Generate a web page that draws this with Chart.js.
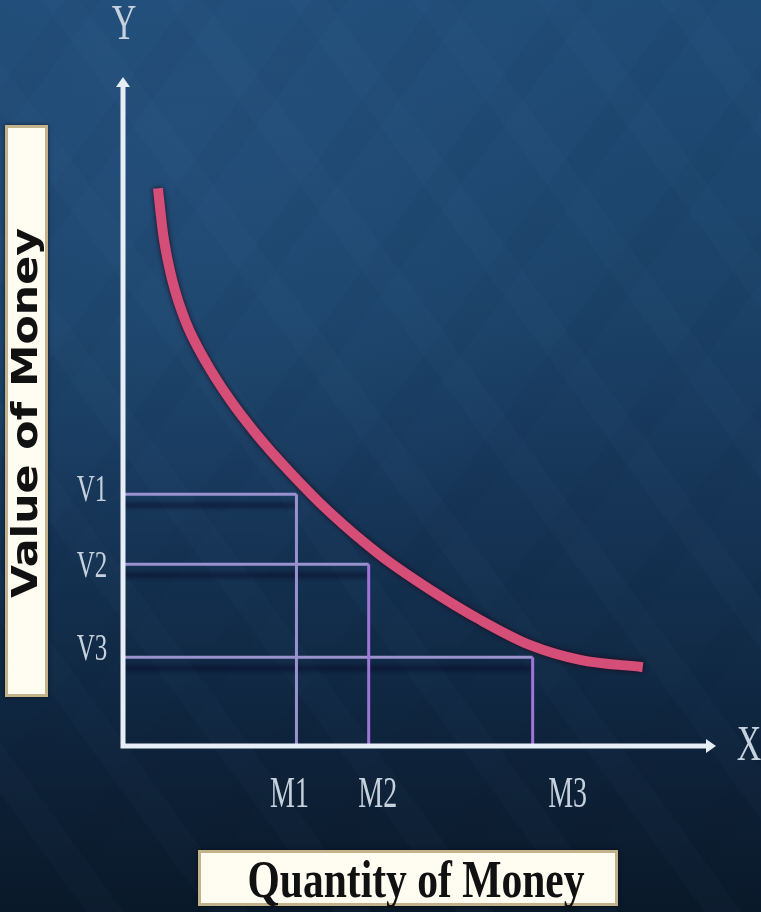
<!DOCTYPE html>
<html>
<head>
<meta charset="utf-8">
<script src="https://cdn.jsdelivr.net/npm/chart.js@4"></script>
<style>
  html, body { margin: 0; padding: 0; }
  body {
    width: 761px; height: 912px; overflow: hidden;
    background:
      repeating-linear-gradient(54deg, rgba(255,255,255,0) 0px, rgba(255,255,255,0) 70px, rgba(120,170,220,0.022) 70px, rgba(120,170,220,0.022) 100px),
      repeating-linear-gradient(-54deg, rgba(0,0,0,0) 0px, rgba(0,0,0,0) 70px, rgba(0,10,30,0.035) 70px, rgba(0,10,30,0.035) 100px),
      radial-gradient(ellipse 90% 70% at 25% 15%, rgba(40,85,130,0.55), rgba(40,85,130,0) 70%),
      linear-gradient(180deg, #1f4c77 0%, #1b4167 35%, #132f4e 65%, #0c1f34 88%, #0a192a 100%);
  }
  #wrap { position: relative; width: 761px; height: 912px; }
</style>
</head>
<body>
<div id="wrap"><canvas id="c"></canvas></div>
<script>
// Demand-for-money style curve: value of money falls as quantity rises.
const curveX = [5.9, 6.8, 8.3, 10.6, 14.0, 18.1, 22.6, 28.2, 34.9, 43.4, 51.9, 60.3, 68.8, 77.2, 87.8];
const curveY = [83.5, 76.5, 69.8, 63.5, 57.5, 51.8, 46.6, 41.0, 35.0, 28.6, 23.4, 18.9, 15.1, 12.9, 11.8];

// Reference quantities and the matching values.
const moneyLabels = ['M1', 'M2', 'M3'];
const moneyValues = [29.3, 41.5, 69.2];
const valueLabels = ['V1', 'V2', 'V3'];
const valueValues = [37.7, 27.2, 13.3];

const yAxisLetter = 'Y';
const xAxisLetter = 'X';
const yTitle = 'Value of Money';
const xTitle = 'Quantity of Money';

const PINK = '#d44e78';
const LAVENDER = '#9a92cf';
const VIOLET = '#a074da';
const AXIS = '#e8eef5';
const LABEL = '#c6d1dd';

// Build guide datasets from the value/quantity pairs.
const guideSets = [];
moneyValues.forEach((m, i) => {
  const v = valueValues[i];
  guideSets.push({
    data: [{ x: 0, y: v }, { x: m, y: v }],
    borderColor: LAVENDER, borderWidth: 3, pointRadius: 0,
    showLine: true, clip: false, order: 3, guideShadow: true
  });
  guideSets.push({
    data: [{ x: m, y: v }, { x: m, y: 0 }],
    borderColor: i === 0 ? LAVENDER : VIOLET, borderWidth: 3, pointRadius: 0,
    showLine: true, clip: false, order: 2
  });
});

const curveSet = {
  data: curveX.map((x, i) => ({ x, y: curveY[i] })),
  borderColor: PINK, borderWidth: 10, pointRadius: 0,
  showLine: true, cubicInterpolationMode: 'monotone',
  borderCapStyle: 'butt', clip: false, order: 1, curveShadow: true
};

function stretchedText(ctx, text, x, y, opts) {
  ctx.save();
  ctx.translate(x, y);
  if (opts.rotate) ctx.rotate(opts.rotate);
  ctx.font = opts.font;
  let sx = opts.sx || 1;
  if (opts.fitWidth) sx = opts.fitWidth / ctx.measureText(text).width;
  ctx.scale(sx, opts.sy || 1);
  ctx.fillStyle = opts.color;
  ctx.textAlign = 'center';
  ctx.textBaseline = opts.baseline || 'middle';
  ctx.fillText(text, 0, 0);
  ctx.restore();
}

function titleBox(ctx, x0, y0, x1, y1) {
  ctx.save();
  ctx.shadowColor = 'rgba(0,0,0,0.6)';
  ctx.shadowBlur = 4;
  ctx.fillStyle = '#fffcf1';
  ctx.fillRect(x0, y0, x1 - x0, y1 - y0);
  ctx.restore();
  ctx.save();
  ctx.strokeStyle = '#c4b28a';
  ctx.lineWidth = 3;
  ctx.strokeRect(x0 + 1.5, y0 + 1.5, x1 - x0 - 3, y1 - y0 - 3);
  ctx.restore();
}

const shadowPlugin = {
  id: 'shadows',
  beforeDatasetDraw(chart, args) {
    const ds = chart.data.datasets[args.index];
    const ctx = chart.ctx;
    ctx.save();
    if (ds.guideShadow) {
      ctx.shadowColor = 'rgba(8,6,35,0.85)';
      ctx.shadowOffsetY = 11;
      ctx.shadowBlur = 5;
    } else if (ds.curveShadow) {
      ctx.shadowColor = 'rgba(40,0,20,0.9)';
      ctx.shadowBlur = 5;
    }
  },
  afterDatasetDraw(chart) { chart.ctx.restore(); }
};

const axesPlugin = {
  id: 'axesAndLabels',
  afterDatasetsDraw(chart) {
    const ctx = chart.ctx;
    const xs = chart.scales.x, ys = chart.scales.y;
    const x0 = xs.getPixelForValue(0), xEnd = xs.getPixelForValue(100);
    const y0 = ys.getPixelForValue(0), yEnd = ys.getPixelForValue(100);

    // Axis lines with arrowheads
    ctx.save();
    ctx.strokeStyle = AXIS;
    ctx.fillStyle = AXIS;
    ctx.lineWidth = 5;
    ctx.beginPath();
    ctx.moveTo(x0, y0 + 2.5);
    ctx.lineTo(x0, yEnd + 7);
    ctx.moveTo(x0 - 2.5, y0);
    ctx.lineTo(xEnd - 7, y0);
    ctx.stroke();
    ctx.beginPath();
    ctx.moveTo(x0, yEnd - 1);
    ctx.lineTo(x0 - 7, yEnd + 9);
    ctx.lineTo(x0 + 7, yEnd + 9);
    ctx.closePath();
    ctx.fill();
    ctx.beginPath();
    ctx.moveTo(xEnd + 1, y0);
    ctx.lineTo(xEnd - 9, y0 - 7);
    ctx.lineTo(xEnd - 9, y0 + 7);
    ctx.closePath();
    ctx.fill();
    ctx.restore();

    const serif = '"Liberation Serif", "DejaVu Serif", serif';
    stretchedText(ctx, yAxisLetter, x0 + 1, yEnd - 52, { font: '34px ' + serif, sy: 1.5, color: LABEL });
    stretchedText(ctx, xAxisLetter, xEnd + 34, y0 + 1, { font: '34px ' + serif, sy: 1.5, color: LABEL });

    const mShift = [-7, 9, 35];
    moneyLabels.forEach((t, i) => {
      stretchedText(ctx, t, xs.getPixelForValue(moneyValues[i]) + mShift[i], y0 + 49,
        { font: '28px ' + serif, sy: 1.6, color: LABEL });
    });
    const vShift = [-3, 3, -7];
    valueLabels.forEach((t, i) => {
      stretchedText(ctx, t, x0 - 31, ys.getPixelForValue(valueValues[i]) + vShift[i],
        { font: '25px ' + serif, sy: 1.5, color: LABEL });
    });

    // Axis titles in boxes
    titleBox(ctx, 5, 125, 48, 697);
    stretchedText(ctx, yTitle, 28, 413, {
      rotate: -Math.PI / 2, font: 'bold 36px "DejaVu Sans", sans-serif',
      fitWidth: 370, color: '#111'
    });
    titleBox(ctx, 198, 850, 618, 906);
    stretchedText(ctx, xTitle, 416, 897, {
      font: 'bold 42px ' + serif, fitWidth: 337, sy: 1.26,
      baseline: 'alphabetic', color: '#111'
    });
  }
};

new Chart(document.getElementById('c'), {
  type: 'scatter',
  data: { datasets: [curveSet, ...guideSets] },
  options: {
    responsive: true,
    maintainAspectRatio: false,
    animation: false,
    events: [],
    layout: { padding: { left: 123, top: 78, right: 46, bottom: 166 } },
    plugins: { legend: { display: false }, tooltip: { enabled: false } },
    scales: {
      x: { type: 'linear', min: 0, max: 100, display: false },
      y: { type: 'linear', min: 0, max: 100, display: false }
    }
  },
  plugins: [shadowPlugin, axesPlugin]
});
</script>
</body>
</html>
